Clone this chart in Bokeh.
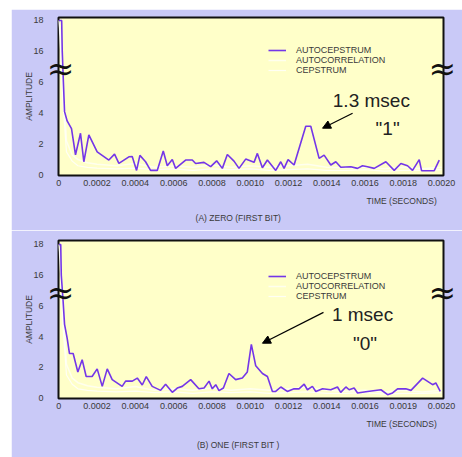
from bokeh.plotting import figure
from bokeh.models import (FixedTicker, Label, Arrow, NormalHead, Legend, LegendItem,
                          Range1d, ColumnDataSource, LinearAxis)
from bokeh.layouts import column
from bokeh.embed import file_html
from bokeh.resources import INLINE

# ---------------- data ----------------
x_ticks = [0, 0.0002, 0.0004, 0.0006, 0.0008, 0.0010, 0.0012, 0.0014, 0.0016, 0.0018, 0.0020]
x_labels_top = ["0", "0.0002", "0.0004", "0.0006", "0.0008", "0.0010", "0.0012", "0.0014",
                "0.0016", "0.0018", "0.0020"]
x_labels_bot = ["0", "0.0002", "0.0004", "0.0006", "0.0008", "0.0010", "0.0012", "0.0014",
                "0.0016", "0.0019", "0.0020"]
y_tick_values = [0, 2, 4, 6, 16, 18]
y_tick_labels = ["0", "2", "4", "6", "16", "18"]

# (A) ZERO (FIRST BIT) - autocepstrum
top_t = [0, 0.000015, 0.000018, 0.000024, 0.00003, 0.0000436, 0.0000663, 0.0000872, 0.0001133,
         0.0001308, 0.0001569, 0.0002005, 0.0002616, 0.0002912, 0.0003139, 0.0003662, 0.0003836,
         0.0004063, 0.0004237, 0.0004534, 0.0004795, 0.0005144, 0.0005458, 0.0005667, 0.0005929,
         0.0006103, 0.0006626, 0.0006975, 0.0007149, 0.0007585, 0.0007934, 0.0008248, 0.0008544,
         0.0008806, 0.0009154, 0.0009416, 0.0009765, 0.0010201, 0.0010375, 0.0010637, 0.0010898,
         0.0011334, 0.0011596, 0.001177, 0.0011979, 0.0012293, 0.0012903, 0.0013165, 0.0013601,
         0.0013862, 0.0014211, 0.0014473, 0.0014734, 0.0015257, 0.0015606, 0.0015868, 0.0016129,
         0.0016478, 0.0017088, 0.0017524, 0.0017873, 0.0018222, 0.0018483, 0.0018832, 0.0018954,
         0.0019616, 0.0019878]
top_auto = [18, 18, 16, 6.0, 4.1, 3.5, 3.0, 1.3, 2.7, 0.86, 2.6, 1.5, 0.97, 1.35, 0.75, 1.18, 1.2,
            0.3, 1.27, 0.86, 0.3, 0.3, 1.55, 0.6, 1.0, 0.43, 0.97, 0.97, 0.75, 0.82, 0.54, 0.92,
            0.43, 1.33, 0.9, 0.43, 1.03, 0.82, 1.4, 0.47, 0.97, 0.3, 0.86, 0.43, 1.0, 0.65, 3.16,
            3.16, 1.08, 1.29, 0.65, 0.86, 0.5, 0.54, 0.43, 0.6, 0.54, 0.43, 0.86, 0.3, 0.75, 0.6,
            0.3, 1.0, 0.28, 0.28, 0.97]

# (B) ONE (FIRST BIT) - autocepstrum
bot_t = [0, 0.00001, 0.000013, 0.000022, 0.00003, 0.0000436, 0.0000558, 0.000075, 0.0000994,
         0.000122, 0.000143, 0.000174, 0.0002005, 0.000227, 0.000253, 0.000279, 0.000331,
         0.000349, 0.000384, 0.00041, 0.000436, 0.000457, 0.000488, 0.000532, 0.000558,
         0.000593, 0.000619, 0.000645, 0.000689, 0.000732, 0.000759, 0.000785, 0.000802,
         0.00082, 0.000837, 0.00086, 0.000889, 0.000924, 0.000959, 0.000985, 0.001006,
         0.001029, 0.001064, 0.00109, 0.001116, 0.001133, 0.00116, 0.001194, 0.001229,
         0.001255, 0.001282, 0.001299, 0.001325, 0.001343, 0.001378, 0.001421, 0.001456,
         0.001473, 0.0015, 0.001517, 0.001543, 0.001561, 0.001613, 0.001683, 0.001718,
         0.001744, 0.00177, 0.001813, 0.00184, 0.001901, 0.001953, 0.00197, 0.001993]
bot_auto = [18, 18, 16, 6.4, 4.8, 3.9, 2.9, 2.9, 1.7, 2.5, 1.4, 1.4, 1.9, 0.76, 1.9, 1.2, 0.76,
            1.1, 1.1, 1.3, 0.85, 1.4, 0.76, 0.5, 0.9, 0.37, 0.65, 0.76, 1.2, 0.6, 0.65, 1.1, 0.6,
            0.87, 0.48, 0.65, 1.6, 1.2, 1.3, 1.7, 3.5, 2.1, 1.6, 1.4, 0.43, 0.43, 0.72, 0.43, 0.6,
            0.6, 0.9, 0.54, 0.76, 0.43, 0.6, 0.54, 0.72, 0.37, 0.72, 0.54, 0.65, 0.33, 0.43, 0.54,
            0.22, 0.33, 0.6, 0.6, 0.5, 1.3, 0.87, 0.98, 0.43]

# faint autocorrelation / cepstrum traces (both panels)
faint_t = [0, 0.00001, 0.00002, 0.00004, 0.00007, 0.0001, 0.00015, 0.0002, 0.0003, 0.0004,
           0.0005, 0.0006, 0.0007, 0.0008, 0.0009, 0.0010, 0.0011, 0.0012, 0.0013, 0.0014,
           0.0015, 0.0016, 0.0017, 0.0018, 0.0019, 0.0020]
faint_corr = [18, 17, 6.5, 2.2, 1.3, 1.0, 0.8, 0.7, 0.6, 0.75, 0.5, 0.6, 0.5, 0.65, 0.5, 0.6,
              0.5, 0.6, 0.7, 0.5, 0.45, 0.5, 0.4, 0.5, 0.4, 0.5]
faint_ceps = [18, 16, 5.0, 1.5, 0.9, 0.6, 0.5, 0.45, 0.4, 0.45, 0.35, 0.4, 0.3, 0.4, 0.35, 0.4,
              0.3, 0.35, 0.4, 0.3, 0.3, 0.35, 0.25, 0.3, 0.3, 0.35]

PANEL = "#c9c9f7"
FRAME = "#ffffc9"
PURPLE = "#7436e8"
TXT = "#3a3a3a"
FONT = "Liberation Sans"
BREAK_POS = 6.9


def brk(vals):
    # broken y axis: 0..6 linear, 16..18 drawn right above the break
    return [v - 8 if v >= 15 else v for v in vals]


def plain_axis(ax, size, font=FONT, color=TXT):
    ax.axis_line_color = None
    ax.major_tick_line_color = None
    ax.minor_tick_line_color = None
    ax.major_tick_out = 0
    ax.major_tick_in = 0
    ax.minor_tick_out = 0
    ax.minor_tick_in = 0
    ax.major_label_text_font = font
    ax.major_label_text_font_size = size
    ax.major_label_text_color = color


def text_axis(pos, text, size, standoff, font=FONT, color=TXT):
    ax = LinearAxis(ticker=FixedTicker(ticks=[pos]), major_label_overrides={pos: text})
    plain_axis(ax, size, font, color)
    ax.major_label_standoff = standoff
    return ax


def make_panel(t, auto, xlabels, caption, peak_text, bit_text, arrow_xy, peak_xy, bit_xy,
               height, top_border, bottom_border, y_top, leg_y, tick_so, time_so, cap_so):
    p = figure(width=451, height=height, output_backend="svg", toolbar_location=None,
               x_range=Range1d(-0.0000016, 0.00201), y_range=Range1d(-0.03, y_top),
               min_border_left=47, min_border_right=19, min_border_top=top_border,
               min_border_bottom=bottom_border)
    p.background_fill_color = FRAME
    p.border_fill_color = PANEL
    p.outline_line_color = "#111111"
    p.outline_line_width = 2
    p.grid.visible = False

    xa = p.xaxis[0]
    ya = p.yaxis[0]
    xa.ticker = FixedTicker(ticks=x_ticks)
    xa.major_label_overrides = {x: l for x, l in zip(x_ticks, xlabels)}
    ya.ticker = FixedTicker(ticks=brk(y_tick_values))
    ya.major_label_overrides = {v: l for v, l in zip(brk(y_tick_values), y_tick_labels)}
    plain_axis(xa, "9px")
    plain_axis(ya, "9px")
    xa.major_label_standoff = tick_so
    ya.major_label_standoff = 0
    ya.axis_label = "AMPLITUDE"
    ya.axis_label_text_font = FONT
    ya.axis_label_text_font_size = "8.5px"
    ya.axis_label_text_font_style = "normal"
    ya.axis_label_text_color = TXT
    ya.axis_label_standoff = -4

    # axis-break marks on both frame edges
    brk_left = text_axis(BREAK_POS, "≈", "33px", -16, font="DejaVu Sans", color="#111111")
    brk_right = text_axis(BREAK_POS, "≈", "33px", -15, font="DejaVu Sans", color="#111111")
    p.left = [brk_left, ya]
    p.add_layout(brk_right, "right")

    # axis title and caption below the frame
    p.add_layout(text_axis(0.001791, "TIME (SECONDS)", "8.5px", time_so), "below")
    p.add_layout(text_axis(0.000938, caption, "8.5px", cap_so), "below")

    src_f = ColumnDataSource(dict(t=faint_t, c=brk(faint_corr), s=brk(faint_ceps)))
    r_corr = p.line("t", "c", source=src_f, line_color="#fffff2", line_width=1.5, line_alpha=0.9)
    r_ceps = p.line("t", "s", source=src_f, line_color="#ffffff", line_width=1.2, line_alpha=0.8)
    src = ColumnDataSource(dict(t=t, a=brk(auto)))
    r_auto = p.line("t", "a", source=src, line_color=PURPLE, line_width=1.6)

    leg = Legend(items=[LegendItem(label="AUTOCEPSTRUM", renderers=[r_auto]),
                        LegendItem(label="AUTOCORRELATION", renderers=[r_corr]),
                        LegendItem(label="CEPSTRUM", renderers=[r_ceps])],
                 location=(210, leg_y), background_fill_alpha=0, border_line_alpha=0,
                 padding=0, margin=0, spacing=0, label_standoff=10, glyph_width=18,
                 glyph_height=10, label_height=10, label_text_font=FONT,
                 label_text_font_size="9px", label_text_color=TXT)
    p.add_layout(leg, "center")

    p.add_layout(Arrow(end=NormalHead(size=8, fill_color="black", line_color="black"),
                       x_start=arrow_xy[0], y_start=arrow_xy[1], x_end=arrow_xy[2],
                       y_end=arrow_xy[3], line_color="black", line_width=1.2))
    p.add_layout(Label(x=peak_xy[0], y=peak_xy[1], text=peak_text, text_font=FONT,
                       text_font_size="19px", text_color="#222222", text_align="center",
                       text_baseline="middle"))
    p.add_layout(Label(x=bit_xy[0], y=bit_xy[1], text=bit_text, text_font=FONT,
                       text_font_size="19px", text_color="#222222", text_align="center",
                       text_baseline="middle"))
    return p


p1 = make_panel(top_t, top_auto, x_labels_top, "(A) ZERO (FIRST BIT)", "1.3 msec", '"1"',
                (0.001535, 4.0, 0.001378, 3.03), (0.001633, 4.84), (0.001718, 3.03),
                221, 8, 55, 10.19, 100, 4, 7, 4)
p2 = make_panel(bot_t, bot_auto, x_labels_bot, "(B) ONE (FIRST BIT )", "1 msec", '"0"',
                (0.001383, 5.58, 0.001064, 3.57), (0.001587, 5.45), (0.0016, 3.57),
                227, 10, 59, 10.26, 97, 4, 7, 8)
p1.margin = (9, 0, 0, 11)
p2.margin = (0, 0, 0, 11)

layout = column(p1, p2, spacing=0)
open("out.html", "w").write(file_html(layout, INLINE))
